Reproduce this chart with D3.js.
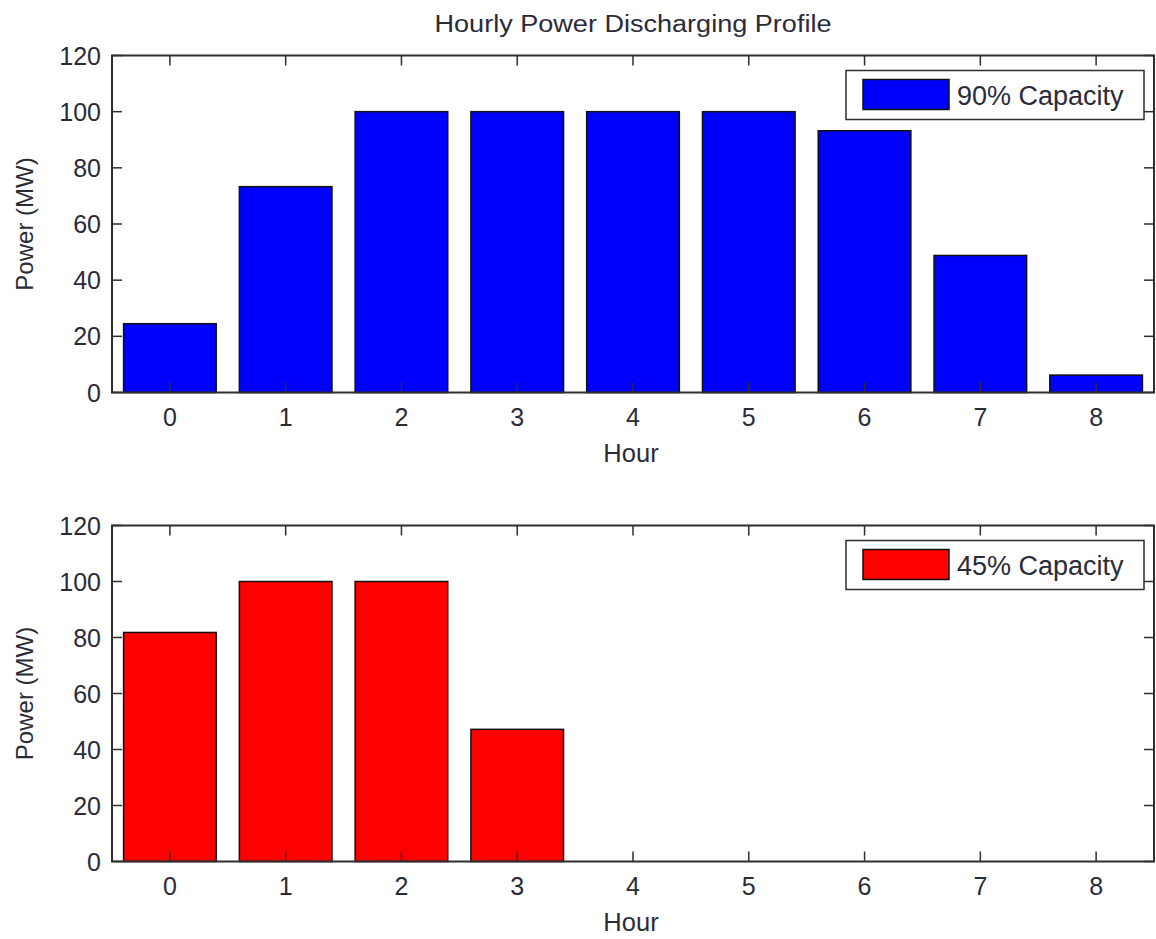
<!DOCTYPE html>
<html><head><meta charset="utf-8">
<script src="https://cdn.jsdelivr.net/npm/d3@7"></script>
<style>
body{margin:0;background:#fff;}
svg{display:block;}
text{font-family:"Liberation Sans",Arial,sans-serif;fill:#2b2b38;}
</style></head><body>
<svg id="chart" width="1156" height="939"></svg>
<script>
const hours = [0,1,2,3,4,5,6,7,8];
const power90 = [24.5,73.3,100,100,100,100,93.2,48.8,6.2];
const power45 = [81.8,100,100,47.2,0,0,0,0,0];
const yTicks = [0,20,40,60,80,100,120];
const chartTitle = "Hourly Power Discharging Profile";
const panels = [
  {values: power90, label: "90% Capacity", color: "#0000ff", top: 55.5, bottom: 392.5},
  {values: power45, label: "45% Capacity", color: "#ff0000", top: 525.5, bottom: 861.5}
];

const svg = d3.select("#chart");
const left = 112, right = 1154;
const axisColor = "#2e2e2e";
const fs = 25;

svg.append("text").attr("x", 633).attr("y", 32).attr("text-anchor","middle")
  .attr("textLength", 397).attr("lengthAdjust","spacingAndGlyphs")
  .style("font-size","23.5px").text(chartTitle);

const x = d3.scaleLinear().domain([-0.5, 8.5]).range([left, right]);
const step = x(1) - x(0);
const bw = step * 0.8;

panels.forEach(p => {
  const y = d3.scaleLinear().domain([0,120]).range([p.bottom, p.top]);
  const g = svg.append("g");

  // bars
  g.selectAll("rect.bar").data(p.values.map((v,i)=>({h:hours[i], v}))).enter()
    .filter(d => d.v > 0)
    .append("rect").attr("class","bar")
    .attr("x", d => x(d.h) - bw/2).attr("width", bw)
    .attr("y", d => y(d.v)).attr("height", d => y(0) - y(d.v))
    .attr("fill", p.color).attr("stroke", "#111").attr("stroke-width", 1.5);

  // box
  g.append("rect").attr("x", left).attr("y", p.top)
    .attr("width", right-left).attr("height", p.bottom-p.top)
    .attr("fill","none").attr("stroke",axisColor).attr("stroke-width",2);

  // x ticks (bottom and top, inward)
  hours.forEach(h => {
    g.append("line").attr("x1", x(h)).attr("x2", x(h)).attr("y1", p.bottom).attr("y2", p.bottom-10)
      .attr("stroke", axisColor).attr("stroke-width",1.5);
    g.append("line").attr("x1", x(h)).attr("x2", x(h)).attr("y1", p.top).attr("y2", p.top+10)
      .attr("stroke", axisColor).attr("stroke-width",1.5);
    g.append("text").attr("x", x(h)).attr("y", p.bottom + 33).attr("text-anchor","middle")
      .style("font-size", fs+"px").text(h);
  });
  // y ticks
  yTicks.forEach(t => {
    g.append("line").attr("x1", left).attr("x2", left+10).attr("y1", y(t)).attr("y2", y(t))
      .attr("stroke", axisColor).attr("stroke-width",1.5);
    g.append("line").attr("x1", right).attr("x2", right-10).attr("y1", y(t)).attr("y2", y(t))
      .attr("stroke", axisColor).attr("stroke-width",1.5);
    g.append("text").attr("x", left - 11).attr("y", y(t)).attr("dy","0.36em").attr("text-anchor","end")
      .style("font-size", fs+"px").text(t);
  });

  // axis labels
  g.append("text").attr("x", 631).attr("y", p.bottom + 69.5).attr("text-anchor","middle")
    .style("font-size", "25.5px").text("Hour");
  g.append("text").attr("transform", `translate(33,${(p.top+p.bottom)/2}) rotate(-90)`)
    .attr("text-anchor","middle").style("font-size", "24px").text("Power (MW)");

  // legend
  const lg = g.append("g").attr("transform", `translate(846,${p.top+15})`);
  lg.append("rect").attr("x",0).attr("y",0).attr("width",298).attr("height",49)
    .attr("fill","#fff").attr("stroke",axisColor).attr("stroke-width",1.5);
  lg.append("rect").attr("x",17).attr("y",9).attr("width",86).attr("height",30)
    .attr("fill",p.color).attr("stroke","#111").attr("stroke-width",1.5);
  lg.append("text").attr("x",111).attr("y",34.5).style("font-size", "27px").text(p.label);
});
</script>
</body></html>
